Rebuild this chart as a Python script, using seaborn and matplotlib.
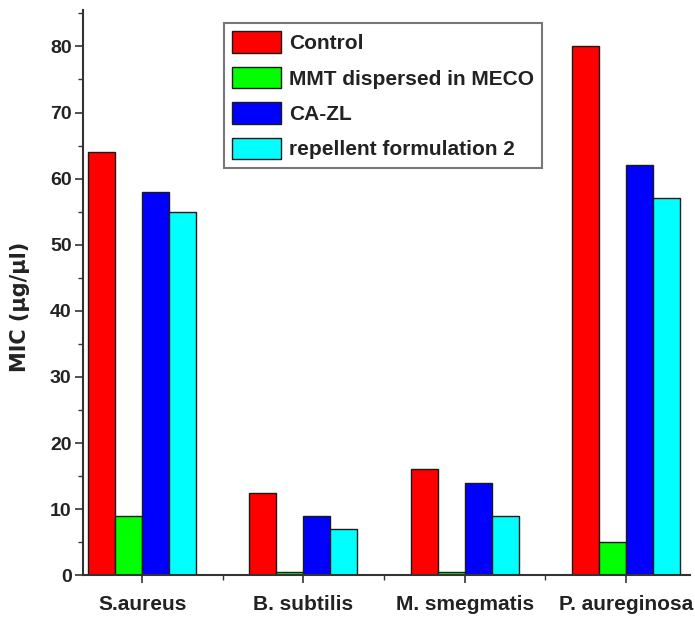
import numpy as np
import pandas as pd
import matplotlib
matplotlib.use("Agg")
import matplotlib.pyplot as plt
import seaborn as sns
from matplotlib.ticker import MultipleLocator

organisms = ["S.aureus", "B. subtilis", "M. smegmatis", "P. aureginosa"]
series = ["Control", "MMT dispersed in MECO", "CA-ZL", "repellent formulation 2"]
control = [64, 12.5, 16, 80]
mmt = [9, 0.5, 0.5, 5]
cazl = [58, 9, 14, 62]
repellent = [55, 7, 9, 57]
colors = ["#FF0000", "#00FF00", "#0000FF", "#00FFFF"]

rows = []
for name, vals in zip(series, [control, mmt, cazl, repellent]):
    for org, v in zip(organisms, vals):
        rows.append({"Organism": org, "Series": name, "MIC": v})
df = pd.DataFrame(rows)

sns.set_theme(style="ticks")
plt.rcParams["font.family"] = ["Liberation Sans", "DejaVu Sans"]
plt.rcParams["font.weight"] = "bold"

fig = plt.figure(figsize=(6.95, 6.28), dpi=100)
ax = fig.add_axes([0.119, 0.084, 0.874, 0.9])

sns.barplot(data=df, x="Organism", y="MIC", hue="Series", order=organisms,
            hue_order=series, palette=colors, width=0.67, gap=0,
            edgecolor="#1a1a1a", linewidth=1.0, ax=ax, saturation=1)

ax.set_ylim(0, 85.5)
ax.set_xlim(-0.37, 3.4)
ax.yaxis.set_major_locator(MultipleLocator(10))
ax.yaxis.set_minor_locator(MultipleLocator(5))
ax.set_xticks([0, 1, 2, 3])
ax.set_xticks([0.5, 1.5, 2.5], minor=True)
ax.tick_params(axis="both", which="major", direction="out", length=6, width=1.2, color="#333333")
ax.tick_params(axis="both", which="minor", direction="out", length=3.5, width=1.0, color="#333333")
ax.tick_params(axis="x", labelsize=15, pad=8)
ax.tick_params(axis="y", labelsize=14, pad=2)
for lab in ax.get_xticklabels() + ax.get_yticklabels():
    lab.set_fontweight("bold")
    lab.set_color("#222222")

ax.set_xlabel("")
ax.set_ylabel("MIC (µg/µl)", fontsize=15, fontweight="bold", color="#222222",
              family=["DejaVu Sans"])
ax.yaxis.set_label_coords(-0.087, 0.474)

sns.despine(ax=ax, top=True, right=True)
for s in ["left", "bottom"]:
    ax.spines[s].set_linewidth(1.5)
    ax.spines[s].set_color("#333333")

leg = ax.legend(loc="upper left", bbox_to_anchor=(0.232, 0.977), fontsize=15,
                frameon=True, fancybox=False, edgecolor="#555555",
                handlelength=2.35, handleheight=1.2, handletextpad=0.38,
                labelspacing=0.66, borderpad=0.4, borderaxespad=0)
leg.get_frame().set_linewidth(1.5)
for t in leg.get_texts():
    t.set_fontweight("bold")
    t.set_color("#222222")

fig.savefig("out.png", dpi=100)
